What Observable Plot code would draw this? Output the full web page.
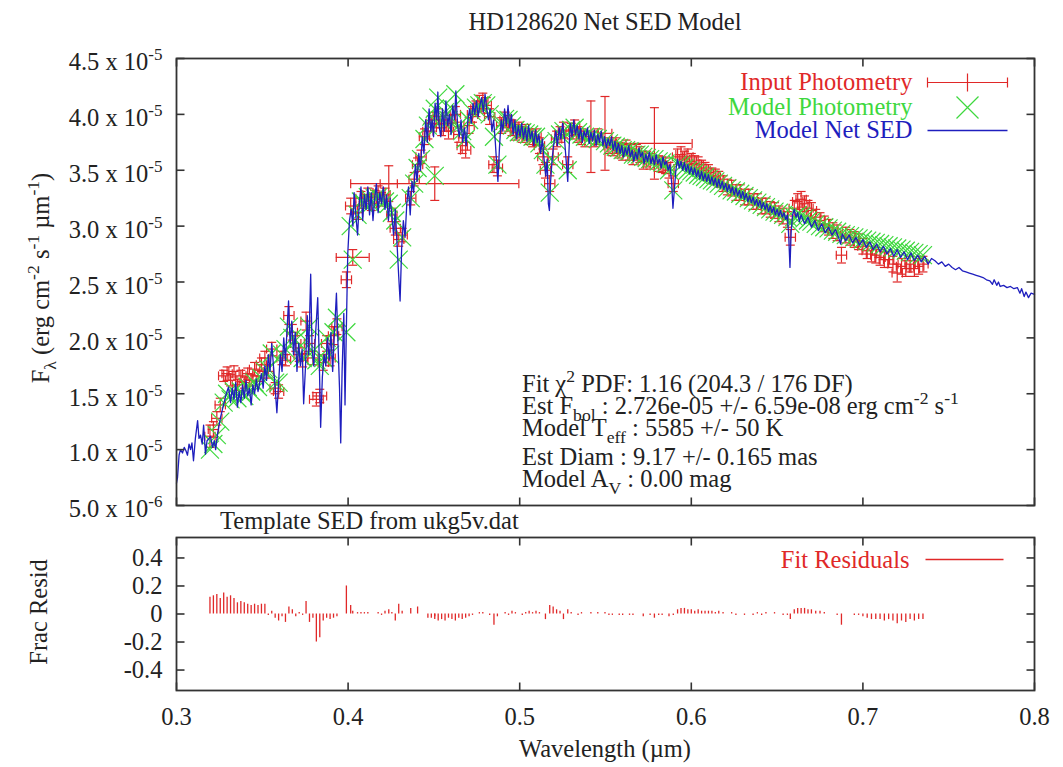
<!DOCTYPE html>
<html><head><meta charset="utf-8">
<script src="https://cdn.jsdelivr.net/npm/d3@7"></script>
<script src="https://cdn.jsdelivr.net/npm/@observablehq/plot@0.6"></script>
<style>
body{margin:0;background:#fff;}
#wrap{position:relative;width:1063px;height:767px;overflow:hidden;background:#fff;}
#top,#bot,#ov{position:absolute;left:0;}
#top{top:0;z-index:2}
#bot{top:515px;z-index:1}
#ov{top:0;pointer-events:none;z-index:3}
</style></head><body>
<div id="wrap"><div id="top"></div><div id="bot"></div><svg id="ov" width="1063" height="767"></svg></div>
<script>
// ---------- DATA (flux in units of 1e-5 erg cm^-2 s^-1 µm^-1) ----------
const photWave = [
0.3195,0.3215,0.3235,0.3255,0.3275,0.3295,0.3315,0.3335,0.3355,0.3375,
0.3395,0.3415,0.3435,0.3455,0.3475,0.3495,0.3515,0.3535,0.3555,0.3575,
0.3595,0.3615,0.3635,0.3655,0.3675,0.3695,0.3715,0.3735,0.3755,0.3775,
0.3795,0.3815,0.3835,0.3855,0.3875,0.3895,0.3915,0.3935,0.3990,0.4015,
0.4027,0.4055,0.4075,0.4095,0.4115,0.4135,0.4155,0.4175,0.4195,0.4215,
0.4237,0.4255,0.4275,0.4295,0.4315,0.4505,0.4365,0.4385,0.4405,0.4425,
0.4445,0.4465,0.4485,0.4505,0.4525,0.4545,0.4565,0.4585,0.4605,0.4625,
0.4645,0.4665,0.4685,0.4705,0.4725,0.4745,0.4765,0.4785,0.4805,0.4825,
0.4850,0.4870,0.4895,0.4915,0.4935,0.4955,0.4975,0.4995,0.5015,0.5035,
0.5055,0.5075,0.5095,0.5115,0.5135,0.5150,0.5175,0.5195,0.5215,0.5235,
0.5255,0.5280,0.5300,0.5320,0.5340,0.5360,0.5380,0.5415,0.5435,0.5455,
0.5497,0.5520,0.5540,0.5560,0.5580,0.5600,0.5620,0.5640,0.5660,0.5680,
0.5700,0.5720,0.5740,0.5760,0.5785,0.5810,0.5830,0.5850,0.5870,0.5895,
0.5920,0.5940,0.5960,0.5980,0.6000,0.6020,0.6040,0.6060,0.6080,0.6100,
0.6120,0.6140,0.6160,0.6185,0.6210,0.6235,0.6260,0.6285,0.6310,0.6335,
0.6360,0.6385,0.6410,0.6435,0.6460,0.6485,0.6510,0.6535,0.6560,0.6577,
0.6600,0.6620,0.6640,0.6660,0.6680,0.6700,0.6725,0.6750,0.6775,0.6800,
0.6825,0.6850,0.6875,0.6900,0.6925,0.6950,0.6975,0.7000,0.7025,0.7050,
0.7075,0.7100,0.7125,0.7150,0.7175,0.7200,0.7225,0.7250,0.7275,0.7300,
0.7325,0.7350];
const photFlux = [
1.12,1.18,1.28,1.40,1.66,1.68,1.62,1.70,1.58,1.66,
1.60,1.68,1.62,1.72,1.66,1.76,1.82,1.70,1.90,1.55,
1.52,1.82,1.80,2.20,2.05,1.95,1.85,1.80,2.15,1.95,
1.82,1.45,1.48,1.78,1.95,1.82,2.02,2.10,2.52,3.18,
2.72,3.12,3.25,3.22,3.28,3.20,3.26,3.30,3.24,3.28,
3.38,3.10,2.98,2.88,2.92,3.38,3.25,3.42,3.55,3.62,
3.80,3.85,3.92,3.95,3.98,3.88,3.92,3.85,3.92,4.00,
3.82,3.72,3.68,3.90,4.00,4.05,4.10,4.12,4.08,3.98,
3.55,3.52,3.90,3.95,3.92,3.88,3.84,3.86,3.82,3.84,
3.80,3.78,3.80,3.72,3.62,3.50,3.38,3.62,3.78,3.82,
3.86,3.55,3.85,3.88,3.82,3.80,3.78,3.80,3.78,3.80,
3.83,3.72,3.70,3.72,3.68,3.66,3.70,3.66,3.62,3.66,
3.64,3.58,3.60,3.58,3.74,3.56,3.55,3.54,3.50,3.38,
3.62,3.64,3.60,3.62,3.58,3.56,3.55,3.52,3.50,3.48,
3.45,3.44,3.42,3.38,3.35,3.34,3.30,3.30,3.26,3.26,
3.22,3.22,3.18,3.18,3.15,3.14,3.11,3.09,3.06,2.90,
3.16,3.22,3.24,3.20,3.16,3.14,3.08,3.05,3.02,2.99,
2.96,2.94,2.74,2.92,2.90,2.88,2.86,2.82,2.78,2.75,
2.74,2.72,2.70,2.70,2.66,2.58,2.64,2.62,2.66,2.62,
2.64,2.66];
const photFluxErr = [
0.10,0.07,0.06,0.06,0.05,0.06,0.05,0.05,0.05,0.05,
0.05,0.05,0.05,0.06,0.05,0.06,0.06,0.06,0.06,0.05,
0.06,0.06,0.05,0.08,0.07,0.07,0.06,0.06,0.08,0.07,
0.06,0.06,0.06,0.07,0.07,0.07,0.08,0.07,0.07,0.07,
0.07,0.06,0.06,0.06,0.06,0.06,0.06,0.06,0.06,0.06,
0.16,0.06,0.06,0.06,0.06,0.15,0.06,0.06,0.06,0.06,
0.07,0.07,0.07,0.07,0.07,0.07,0.07,0.07,0.07,0.07,
0.07,0.07,0.07,0.07,0.07,0.07,0.07,0.07,0.07,0.07,
0.07,0.07,0.07,0.07,0.07,0.07,0.07,0.07,0.07,0.07,
0.07,0.07,0.07,0.07,0.07,0.07,0.07,0.07,0.07,0.07,
0.07,0.07,0.07,0.07,0.07,0.07,0.07,0.32,0.07,0.07,
0.33,0.07,0.07,0.07,0.07,0.07,0.07,0.07,0.07,0.07,
0.07,0.07,0.07,0.07,0.32,0.07,0.07,0.07,0.07,0.07,
0.07,0.07,0.07,0.07,0.07,0.07,0.07,0.07,0.07,0.07,
0.07,0.07,0.07,0.07,0.07,0.07,0.07,0.07,0.07,0.07,
0.07,0.07,0.07,0.07,0.07,0.07,0.07,0.07,0.07,0.07,
0.07,0.07,0.07,0.07,0.07,0.07,0.07,0.07,0.07,0.07,
0.07,0.07,0.07,0.07,0.07,0.07,0.07,0.07,0.07,0.07,
0.07,0.07,0.07,0.07,0.07,0.08,0.07,0.07,0.07,0.07,
0.07,0.07];
const photWaveErr = [
0.003,0.003,0.003,0.003,0.003,0.003,0.003,0.003,0.003,0.003,
0.003,0.003,0.003,0.003,0.003,0.003,0.003,0.003,0.003,0.003,
0.003,0.003,0.003,0.003,0.003,0.003,0.003,0.003,0.003,0.003,
0.003,0.004,0.004,0.003,0.003,0.003,0.003,0.003,0.003,0.003,
0.0096,0.003,0.003,0.003,0.003,0.003,0.003,0.003,0.003,0.003,
0.005,0.003,0.003,0.003,0.003,0.049,0.003,0.003,0.003,0.003,
0.003,0.003,0.003,0.003,0.003,0.003,0.003,0.003,0.003,0.003,
0.003,0.003,0.003,0.003,0.003,0.003,0.003,0.003,0.003,0.003,
0.003,0.003,0.003,0.003,0.003,0.003,0.003,0.003,0.003,0.003,
0.003,0.003,0.003,0.003,0.003,0.003,0.003,0.003,0.003,0.003,
0.003,0.003,0.003,0.003,0.003,0.003,0.003,0.004,0.003,0.003,
0.004,0.003,0.003,0.003,0.003,0.003,0.003,0.003,0.003,0.003,
0.003,0.003,0.003,0.003,0.022,0.003,0.003,0.003,0.003,0.003,
0.003,0.003,0.003,0.003,0.003,0.003,0.003,0.003,0.003,0.003,
0.003,0.003,0.003,0.003,0.003,0.003,0.003,0.003,0.003,0.003,
0.003,0.003,0.003,0.003,0.003,0.003,0.003,0.003,0.003,0.003,
0.003,0.003,0.003,0.003,0.003,0.003,0.003,0.003,0.003,0.003,
0.003,0.003,0.003,0.003,0.003,0.003,0.003,0.003,0.003,0.003,
0.003,0.003,0.003,0.003,0.003,0.003,0.003,0.003,0.003,0.003,
0.003,0.003];
const modelFlux = [
1.00,1.05,1.13,1.25,1.42,1.50,1.45,1.52,1.46,1.52,
1.48,1.56,1.52,1.60,1.56,1.64,1.70,1.72,1.86,1.60,
1.60,1.85,1.90,2.10,2.00,1.98,1.85,1.82,1.98,2.10,
1.88,1.80,1.75,1.82,2.00,1.85,2.05,2.18,2.05,3.00,
2.70,3.10,3.22,3.20,3.26,3.20,3.25,3.26,3.24,3.22,
3.20,3.12,3.05,2.70,2.90,3.45,3.25,3.38,3.52,3.60,
3.78,3.90,3.98,4.05,4.15,3.95,4.02,3.95,4.05,4.18,
3.90,3.85,3.78,3.95,4.02,4.06,4.08,4.10,4.08,4.00,
3.80,3.55,3.92,3.96,3.95,3.90,3.86,3.84,3.84,3.83,
3.82,3.80,3.80,3.74,3.68,3.55,3.30,3.58,3.76,3.82,
3.85,3.50,3.86,3.88,3.84,3.82,3.80,3.80,3.79,3.78,
3.76,3.74,3.72,3.71,3.70,3.68,3.68,3.67,3.64,3.64,
3.64,3.62,3.61,3.60,3.60,3.58,3.57,3.56,3.50,3.32,
3.55,3.54,3.52,3.50,3.49,3.48,3.46,3.45,3.44,3.42,
3.41,3.40,3.38,3.36,3.34,3.32,3.31,3.29,3.27,3.25,
3.23,3.21,3.19,3.17,3.15,3.13,3.12,3.10,3.08,3.02,
3.08,3.10,3.09,3.07,3.05,3.04,3.02,3.00,2.99,2.98,
2.96,2.95,2.93,2.92,2.91,2.90,2.89,2.88,2.87,2.86,
2.85,2.84,2.83,2.82,2.81,2.80,2.79,2.78,2.77,2.76,
2.75,2.74];
const fracResid = [
0.12,0.13,0.14,0.11,0.15,0.12,0.13,0.11,0.08,0.09,
0.08,0.07,0.06,0.07,0.06,0.07,0.07,-0.01,0.02,-0.03,
-0.05,-0.02,-0.06,0.05,0.03,-0.02,0.01,-0.01,0.09,-0.06,
-0.03,-0.20,-0.17,-0.05,-0.03,-0.04,-0.03,-0.02,0.20,0.06,
0.02,0.01,0.01,0.01,0.01,0.00,0.00,0.01,-0.01,0.02,
0.03,0.01,-0.05,0.07,0.02,-0.02,0.04,0.00,0.05,0.00,
0.00,-0.03,-0.03,-0.04,-0.05,-0.04,-0.05,-0.03,-0.04,-0.05,
-0.03,-0.04,-0.03,-0.02,-0.01,0.00,0.01,0.01,0.00,-0.01,
-0.08,-0.02,0.00,0.01,-0.01,0.02,0.01,0.00,-0.01,0.01,
0.02,0.01,0.02,0.01,0.00,-0.04,0.06,0.05,0.03,0.02,
-0.04,0.03,0.01,0.00,-0.01,0.01,0.00,0.01,0.00,0.01,
0.01,-0.01,-0.01,0.00,-0.01,-0.01,0.00,-0.01,-0.01,0.00,
0.00,-0.02,0.00,-0.01,-0.03,-0.01,-0.01,0.00,-0.02,-0.01,
0.03,0.04,0.04,0.03,0.03,0.02,0.03,0.02,0.02,0.02,
0.02,0.01,0.02,0.01,0.00,0.01,-0.01,0.00,-0.01,0.00,
-0.01,0.01,-0.01,0.01,0.00,0.01,0.00,-0.01,-0.01,-0.04,
0.03,0.04,0.04,0.04,0.03,0.03,0.02,0.02,0.01,0.00,
0.00,-0.01,-0.08,0.00,0.00,-0.01,-0.01,-0.02,-0.03,-0.04,
-0.04,-0.04,-0.05,-0.04,-0.05,-0.07,-0.05,-0.06,-0.04,-0.05,
-0.04,-0.04];
const sedWave = [
0.3000,0.3006,0.3015,0.3023,0.3035,0.3045,0.3055,0.3064,0.3073,0.3082,
0.3090,0.3099,0.3110,0.3123,0.3131,0.3140,0.3150,0.3158,0.3169,0.3178,
0.3190,0.3198,0.3210,0.3220,0.3228,0.3240,0.3257,0.3274,0.3290,0.3303,
0.3315,0.3325,0.3335,0.3345,0.3355,0.3365,0.3375,0.3385,0.3395,0.3405,
0.3415,0.3425,0.3435,0.3445,0.3455,0.3465,0.3475,0.3485,0.3495,0.3505,
0.3515,0.3525,0.3535,0.3545,0.3555,0.3565,0.3575,0.3585,0.3595,0.3605,
0.3615,0.3625,0.3635,0.3645,0.3653,0.3662,0.3672,0.3682,0.3692,0.3702,
0.3712,0.3722,0.3732,0.3741,0.3752,0.3762,0.3770,0.3782,0.3790,0.3800,
0.3811,0.3823,0.3832,0.3840,0.3850,0.3860,0.3870,0.3880,0.3890,0.3900,
0.3910,0.3922,0.3932,0.3940,0.3950,0.3957,0.3965,0.3975,0.3982,0.3990,
0.3998,0.4008,0.4018,0.4028,0.4035,0.4045,0.4055,0.4065,0.4075,0.4085,
0.4095,0.4105,0.4115,0.4125,0.4135,0.4145,0.4155,0.4165,0.4175,0.4185,
0.4195,0.4205,0.4215,0.4225,0.4235,0.4245,0.4255,0.4265,0.4275,0.4285,
0.4295,0.4303,0.4312,0.4322,0.4332,0.4342,0.4352,0.4362,0.4372,0.4382,
0.4392,0.4402,0.4412,0.4422,0.4432,0.4442,0.4452,0.4462,0.4472,0.4482,
0.4490,0.4498,0.4507,0.4517,0.4523,0.4530,0.4540,0.4550,0.4560,0.4570,
0.4580,0.4590,0.4600,0.4610,0.4620,0.4628,0.4638,0.4648,0.4658,0.4668,
0.4678,0.4688,0.4698,0.4708,0.4718,0.4728,0.4738,0.4748,0.4758,0.4768,
0.4778,0.4788,0.4798,0.4808,0.4818,0.4828,0.4838,0.4848,0.4858,0.4866,
0.4873,0.4882,0.4892,0.4902,0.4912,0.4922,0.4932,0.4942,0.4952,0.4962,
0.4972,0.4982,0.4992,0.5002,0.5012,0.5022,0.5032,0.5042,0.5052,0.5062,
0.5072,0.5082,0.5092,0.5102,0.5112,0.5122,0.5132,0.5142,0.5152,0.5160,
0.5167,0.5173,0.5180,0.5190,0.5200,0.5210,0.5220,0.5230,0.5240,0.5250,
0.5260,0.5270,0.5280,0.5288,0.5295,0.5305,0.5315,0.5325,0.5335,0.5345,
0.5355,0.5365,0.5375,0.5385,0.5395,0.5405,0.5415,0.5425,0.5435,0.5445,
0.5455,0.5465,0.5475,0.5485,0.5495,0.5505,0.5515,0.5525,0.5535,0.5545,
0.5555,0.5565,0.5575,0.5585,0.5595,0.5605,0.5615,0.5625,0.5635,0.5645,
0.5655,0.5665,0.5675,0.5685,0.5695,0.5705,0.5715,0.5725,0.5735,0.5745,
0.5755,0.5765,0.5775,0.5785,0.5795,0.5805,0.5815,0.5825,0.5835,0.5845,
0.5855,0.5865,0.5875,0.5885,0.5893,0.5900,0.5910,0.5920,0.5930,0.5940,
0.5950,0.5960,0.5970,0.5980,0.5990,0.6000,0.6010,0.6020,0.6030,0.6040,
0.6050,0.6060,0.6070,0.6080,0.6090,0.6100,0.6110,0.6120,0.6130,0.6140,
0.6150,0.6160,0.6170,0.6180,0.6190,0.6200,0.6210,0.6220,0.6230,0.6240,
0.6250,0.6260,0.6270,0.6280,0.6290,0.6300,0.6310,0.6320,0.6330,0.6340,
0.6350,0.6360,0.6370,0.6380,0.6390,0.6400,0.6410,0.6420,0.6430,0.6440,
0.6450,0.6460,0.6470,0.6480,0.6490,0.6500,0.6510,0.6520,0.6530,0.6540,
0.6550,0.6560,0.6568,0.6575,0.6582,0.6590,0.6600,0.6610,0.6620,0.6630,
0.6640,0.6660,0.6680,0.6700,0.6720,0.6740,0.6760,0.6780,0.6800,0.6820,
0.6840,0.6860,0.6870,0.6880,0.6900,0.6920,0.6940,0.6960,0.6980,0.7000,
0.7020,0.7040,0.7060,0.7080,0.7100,0.7120,0.7140,0.7160,0.7180,0.7200,
0.7220,0.7240,0.7260,0.7280,0.7300,0.7320,0.7340,0.7360,0.7380,0.7400,
0.7420,0.7440,0.7460,0.7480,0.7500,0.7520,0.7540,0.7560,0.7580,0.7600,
0.7620,0.7640,0.7660,0.7680,0.7700,0.7720,0.7740,0.7755,0.7765,0.7780,
0.7790,0.7800,0.7820,0.7840,0.7860,0.7880,0.7900,0.7915,0.7925,0.7940,
0.7950,0.7965,0.7980,0.8000];
const sedFlux = [
0.70,0.75,0.95,1.00,0.97,1.02,0.99,0.95,1.05,1.00,
1.06,0.90,1.10,1.26,1.10,1.13,1.05,1.22,0.96,1.08,
1.10,1.12,1.02,1.08,1.00,1.15,1.29,1.40,1.50,1.56,
1.42,1.55,1.45,1.60,1.38,1.52,1.42,1.58,1.46,1.62,
1.48,1.55,1.40,1.58,1.50,1.63,1.52,1.60,1.68,1.55,
1.75,1.62,1.85,1.70,1.95,1.75,1.55,1.33,1.60,1.85,
1.70,2.00,1.80,2.10,2.33,1.95,2.15,1.85,2.05,1.70,
1.95,1.75,1.90,1.41,1.75,2.20,1.85,2.57,1.90,1.75,
2.05,2.36,1.80,1.20,1.65,1.85,1.75,2.00,1.80,2.05,
1.70,2.10,2.40,2.00,1.55,1.06,1.70,2.22,1.40,2.10,
2.75,3.05,3.15,3.00,3.30,3.10,2.92,3.20,3.35,3.05,
3.28,3.15,3.35,3.10,3.30,3.05,3.25,3.38,3.12,3.30,
3.20,3.35,3.15,3.28,3.05,3.25,3.10,2.92,3.15,2.85,
2.55,2.33,2.80,3.05,2.90,3.20,3.35,3.10,3.40,3.30,
3.55,3.40,3.65,3.50,3.80,3.65,3.95,3.75,4.05,3.85,
3.95,3.80,4.10,3.95,4.20,3.90,3.80,4.05,3.85,4.12,
3.90,4.00,3.82,4.08,3.95,4.21,3.90,3.80,3.95,3.75,
3.88,3.72,3.95,4.05,3.92,4.10,4.00,4.12,3.98,4.08,
4.15,4.02,4.18,4.05,3.95,4.05,3.85,3.95,3.75,3.55,
3.40,3.70,3.95,3.85,4.05,3.90,4.08,3.88,4.00,3.82,
3.95,3.78,3.90,3.80,3.92,3.78,3.88,3.76,3.90,3.78,
3.85,3.72,3.86,3.75,3.82,3.65,3.78,3.60,3.45,3.60,
3.20,3.14,3.40,3.62,3.75,3.85,3.72,3.88,3.78,3.92,
3.80,3.60,3.40,3.70,3.92,3.80,3.95,3.82,3.90,3.78,
3.88,3.75,3.85,3.80,3.88,3.74,3.84,3.76,3.86,3.72,
3.82,3.75,3.85,3.72,3.80,3.70,3.78,3.72,3.80,3.68,
3.76,3.66,3.74,3.65,3.72,3.62,3.70,3.64,3.72,3.62,
3.68,3.58,3.66,3.60,3.70,3.62,3.66,3.56,3.64,3.58,
3.66,3.56,3.62,3.55,3.64,3.56,3.60,3.52,3.62,3.55,
3.58,3.50,3.55,3.40,3.16,3.30,3.50,3.60,3.52,3.58,
3.50,3.57,3.49,3.55,3.47,3.53,3.46,3.52,3.44,3.50,
3.42,3.49,3.41,3.47,3.40,3.46,3.38,3.44,3.37,3.43,
3.35,3.42,3.34,3.40,3.33,3.38,3.31,3.37,3.30,3.35,
3.28,3.34,3.27,3.32,3.25,3.31,3.24,3.29,3.22,3.27,
3.21,3.26,3.19,3.24,3.18,3.23,3.16,3.21,3.15,3.20,
3.13,3.18,3.12,3.17,3.10,3.15,3.09,3.14,3.08,3.12,
3.06,3.10,2.90,2.63,2.95,3.10,3.15,3.08,3.12,3.04,
3.10,3.02,3.08,2.99,3.05,2.96,3.02,2.94,2.99,2.92,
2.97,2.89,2.84,2.93,2.87,2.92,2.85,2.90,2.83,2.88,
2.81,2.86,2.79,2.84,2.77,2.82,2.75,2.80,2.73,2.79,
2.72,2.77,2.70,2.76,2.69,2.74,2.68,2.73,2.66,2.71,
2.69,2.66,2.68,2.64,2.66,2.63,2.61,2.63,2.60,2.59,
2.58,2.57,2.56,2.55,2.54,2.52,2.51,2.48,2.52,2.47,
2.50,2.46,2.47,2.45,2.46,2.44,2.45,2.40,2.44,2.37,
2.41,2.36,2.40,2.39];

const fluxTicks = [0.5,1.0,1.5,2.0,2.5,3.0,3.5,4.0,4.5];
const fluxTickLabels = ["5.0 x 10^-6","1.0 x 10^-5","1.5 x 10^-5","2.0 x 10^-5","2.5 x 10^-5","3.0 x 10^-5","3.5 x 10^-5","4.0 x 10^-5","4.5 x 10^-5"];
const waveTicks = [0.3,0.4,0.5,0.6,0.7,0.8];
const waveTickLabels = ["0.3","0.4","0.5","0.6","0.7","0.8"];
const residTicks = [-0.4,-0.2,0,0.2,0.4];
const residTickLabels = ["-0.4","-0.2","0","0.2","0.4"];
const legendLabels = ["Input Photometry","Model Photometry","Model Net SED"];
const residLegendLabel = "Fit Residuals";
const titleText = "HD128620 Net SED Model";
const templateText = "Template SED from ukg5v.dat";
const yLabelTop = "F_{λ} (erg cm^{-2} s^{-1} µm^{-1})";
const yLabelBottom = "Frac Resid";
const xLabel = "Wavelength (µm)";
const infoLines = [
  "Fit χ^{2} PDF: 1.16 (204.3 / 176 DF)",
  "Est F_{bol} : 2.726e-05 +/- 6.59e-08 erg cm^{-2} s^{-1}",
  "Model T_{eff} : 5585 +/- 50 K",
  "Est Diam : 9.17 +/- 0.165 mas",
  "Model A_{V} : 0.00 mag"
];

// ---------- build tables ----------
const phot = photWave.map((w, i) => ({w, f: photFlux[i], ef: photFluxErr[i], ew: photWaveErr[i], m: modelFlux[i], r: fracResid[i]}));
const sed = sedWave.map((w, i) => ({w, f: sedFlux[i]}));

const FONT = '"Liberation Serif","Times New Roman",Times,serif';
const FS = 24.5;
const RED = "#e02828", GREEN = "#3ed83e", BLUE = "#1e1ebe", FRAMEC = "#333";

const sym = f => ({draw(ctx, size) { f(ctx, Math.sqrt(size / Math.PI)); }});
const capH = sym((c, r) => { c.moveTo(-r, 0); c.lineTo(r, 0); });
const capV = sym((c, r) => { c.moveTo(0, -r); c.lineTo(0, r); });
const cross = sym((c, r) => { c.moveTo(-r, -r); c.lineTo(r, r); c.moveTo(-r, r); c.lineTo(r, -r); });
const tickUp = sym((c, r) => { c.moveTo(0, 0); c.lineTo(0, -r); });
const tickDown = sym((c, r) => { c.moveTo(0, 0); c.lineTo(0, r); });
const tickRight = sym((c, r) => { c.moveTo(0, 0); c.lineTo(r, 0); });
const tickLeft = sym((c, r) => { c.moveTo(0, 0); c.lineTo(-r, 0); });
const errKey = sym((c, r) => { c.moveTo(-r, 0); c.lineTo(r, 0); c.moveTo(-r, -5); c.lineTo(-r, 5); c.moveTo(r, -5); c.lineTo(r, 5); c.moveTo(0, -9); c.lineTo(0, 9); });

function frameTicks(xs, ys) {
  const o = {stroke: FRAMEC, strokeWidth: 1.6, fill: "none", r: 8};
  return [
    Plot.dot(xs, {...o, x: d => d, frameAnchor: "bottom", symbol: tickUp}),
    Plot.dot(xs, {...o, x: d => d, frameAnchor: "top", symbol: tickDown}),
    Plot.dot(ys, {...o, y: d => d, frameAnchor: "left", symbol: tickRight}),
    Plot.dot(ys, {...o, y: d => d, frameAnchor: "right", symbol: tickLeft})
  ];
}

const common = {width: 1063, marginLeft: 176, marginRight: 29,
  style: {fontFamily: FONT, fontSize: FS + "px", color: "#222", background: "transparent", overflow: "visible"}};

const eb = {stroke: RED, strokeWidth: 1.2, fill: "none"};
const topPlot = Plot.plot({
  ...common, height: 515, marginTop: 58, marginBottom: 10,
  x: {domain: [0.3, 0.8], axis: null, label: null},
  y: {domain: [0.5, 4.5], label: null},
  marks: [
    Plot.ruleY(phot, {y: "f", x1: d => d.w - d.ew, x2: d => d.w + d.ew, ...eb}),
    Plot.ruleX(phot, {x: "w", y1: d => d.f - d.ef, y2: d => d.f + d.ef, ...eb}),
    Plot.dot(phot, {x: "w", y: d => d.f + d.ef, symbol: capH, r: 4.5, ...eb}),
    Plot.dot(phot, {x: "w", y: d => d.f - d.ef, symbol: capH, r: 4.5, ...eb}),
    Plot.dot(phot, {x: d => d.w - d.ew, y: "f", symbol: capV, r: 4.5, ...eb}),
    Plot.dot(phot, {x: d => d.w + d.ew, y: "f", symbol: capV, r: 4.5, ...eb}),
    Plot.dot(phot, {x: "w", y: "m", symbol: cross, r: 9, stroke: GREEN, strokeWidth: 1.2, fill: "none"}),
    Plot.line(sed, {x: "w", y: "f", stroke: BLUE, strokeWidth: 1.3}),
    Plot.frame({stroke: FRAMEC, strokeWidth: 1.8}),
    ...frameTicks(waveTicks, fluxTicks),
    Plot.axisY({ticks: fluxTicks, tickSize: 0, tickPadding: 14, label: null,
      tickFormat: d => fluxTickLabels[fluxTicks.indexOf(d)]}),
    Plot.text([legendLabels[0]], {frameAnchor: "top-right", dx: -122, dy: 24, textAnchor: "end", lineAnchor: "middle", fill: RED, fontSize: FS}),
    Plot.text([legendLabels[1]], {frameAnchor: "top-right", dx: -122, dy: 49, textAnchor: "end", lineAnchor: "middle", fill: GREEN, fontSize: FS}),
    Plot.text([legendLabels[2]], {frameAnchor: "top-right", dx: -122, dy: 72, textAnchor: "end", lineAnchor: "middle", fill: BLUE, fontSize: FS}),
    Plot.dot([0], {frameAnchor: "top-right", dx: -67, dy: 24, symbol: errKey, r: 40, stroke: RED, strokeWidth: 1.2, fill: "none"}),
    Plot.dot([0], {frameAnchor: "top-right", dx: -67, dy: 49, symbol: cross, r: 11, stroke: GREEN, strokeWidth: 1.2, fill: "none"}),
    Plot.dot([0], {frameAnchor: "top-right", dx: -67, dy: 72, symbol: capH, r: 40, stroke: BLUE, strokeWidth: 1.3, fill: "none"})
  ]
});
document.getElementById("top").appendChild(topPlot);

// superscript exponents on the flux tick labels
d3.select(topPlot).selectAll('g[aria-label="y-axis tick label"] text').each(function() {
  const s = this.textContent; const k = s.indexOf("^"); if (k < 0) return;
  const t = d3.select(this); t.text(null);
  t.append("tspan").attr("dy", 4).text(s.slice(0, k));
  t.append("tspan").attr("dy", -10).attr("font-size", 17).text(s.slice(k + 1));
});

const botPlot = Plot.plot({
  ...common, height: 252, marginTop: 22, marginBottom: 77,
  x: {domain: [0.3, 0.8], label: null},
  y: {domain: [-0.546, 0.546], label: null},
  marks: [
    Plot.ruleX(phot, {x: "w", y1: 0, y2: "r", stroke: RED, strokeWidth: 1.3}),
    Plot.frame({stroke: FRAMEC, strokeWidth: 1.8}),
    ...frameTicks(waveTicks, residTicks),
    Plot.axisX({ticks: waveTicks, tickSize: 0, tickPadding: 17, label: null,
      tickFormat: d => waveTickLabels[waveTicks.indexOf(d)]}),
    Plot.axisY({ticks: residTicks, tickSize: 0, tickPadding: 14, label: null,
      tickFormat: d => residTickLabels[residTicks.indexOf(d)]}),
    Plot.text([residLegendLabel], {frameAnchor: "top-right", dx: -125, dy: 23, textAnchor: "end", lineAnchor: "middle", fill: RED, fontSize: FS}),
    Plot.dot([0], {frameAnchor: "top-right", dx: -70, dy: 22, symbol: capH, r: 39, stroke: RED, strokeWidth: 1.3, fill: "none"})
  ]
});
document.getElementById("bot").appendChild(botPlot);

// ---------- text annotations ----------
const ov = d3.select("#ov");
function richText(str, {x, y, size = FS, anchor = "start", rotate = 0, fill = "#222"}) {
  const t = ov.append("text").attr("font-family", FONT).attr("font-size", size).attr("fill", fill)
    .attr("text-anchor", anchor).style("white-space", "pre")
    .attr("transform", `translate(${x},${y})` + (rotate ? ` rotate(${rotate})` : ""));
  const parts = str.split(/(\^\{[^}]*\}|_\{[^}]*\})/).filter(s => s.length);
  let cur = 0;
  for (const p of parts) {
    let off = 0, txt = p, fs = null;
    if (p.startsWith("^{")) { off = -0.42 * size; txt = p.slice(2, -1); fs = size * 0.72; }
    else if (p.startsWith("_{")) { off = 0.3 * size; txt = p.slice(2, -1); fs = size * 0.72; }
    const ts = t.append("tspan").attr("dy", off - cur).text(txt);
    if (fs) ts.attr("font-size", fs);
    cur = off;
  }
}
richText(titleText, {x: 605, y: 30, anchor: "middle"});
richText(templateText, {x: 220, y: 529});
richText(yLabelTop, {x: 49, y: 278, anchor: "middle", rotate: -90});
richText(yLabelBottom, {x: 47, y: 612, anchor: "middle", rotate: -90});
richText(xLabel, {x: 605, y: 757, anchor: "middle"});
const infoBase = [392, 414, 436, 465, 487];
infoLines.forEach((s, i) => richText(s, {x: 522, y: infoBase[i]}));
</script>
</body></html>
